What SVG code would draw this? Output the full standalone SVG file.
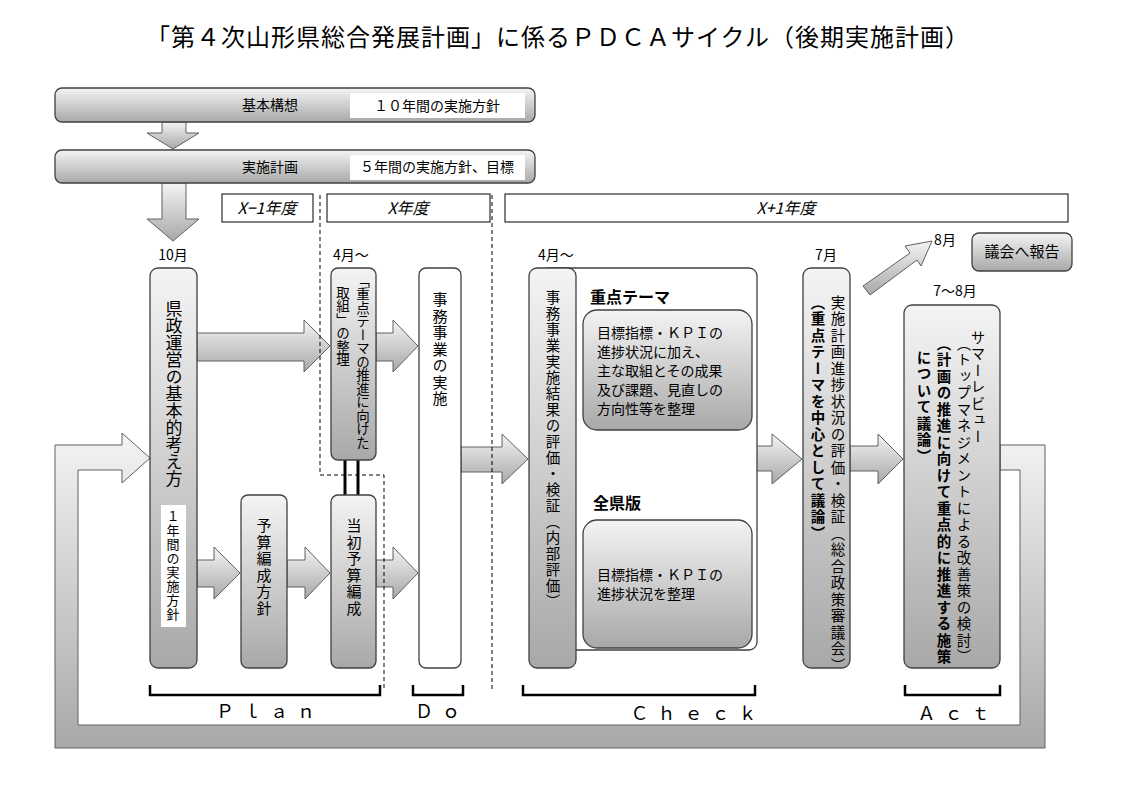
<svg xmlns="http://www.w3.org/2000/svg" width="1123" height="794" viewBox="0 0 1123 794">
<defs>
<linearGradient id="g" x1="0" y1="0" x2="0" y2="1"><stop offset="0" stop-color="#f4f4f4"/><stop offset="1" stop-color="#a8a8a8"/></linearGradient>
</defs>
<style>
text{font-family:"Noto Sans CJK JP","Noto Sans",sans-serif;fill:#000}
.n{fill:url(#g);stroke:#404040;stroke-width:1.3}
.w{fill:#fff;stroke:#404040;stroke-width:1.3}
.a{fill:url(#g);stroke:#606060;stroke-width:1}
.v{writing-mode:vertical-rl;font-size:15px;letter-spacing:1.5px}
.h{font-size:14px}
.y{font-size:16px;font-style:italic}
.b{font-weight:bold}
.d{fill:none;stroke:#000;stroke-dasharray:4 3;stroke-width:1}
.br{fill:none;stroke:#000;stroke-width:2.5}
.pl{font-size:18px;letter-spacing:9px}
</style>
<rect width="1123" height="794" fill="#fff"/>
<text x="558" y="46" text-anchor="middle" font-size="24" letter-spacing="1">「第４次山形県総合発展計画」に係るＰＤＣＡサイクル（後期実施計画）</text>

<g id="connectors">
<polygon class="a" points="162,122 186,122 186,133 199,133 173,149 147,133 162,133"/>
<polygon class="a" points="162,183 186,183 186,219 199,219 173,241 147,219 162,219"/>
<polygon class="a" points="197,333 304,333 304,320 330,346 304,372 304,361 197,361"/>
<polygon class="a" points="376,333 393,333 393,320 418,346 393,372 393,361 376,361"/>
<polygon class="a" points="197,560 214,560 214,547 240,573 214,599 214,587 197,587"/>
<polygon class="a" points="287,560 305,560 305,547 330,573 305,599 305,587 287,587"/>
<polygon class="a" points="376,560 393,560 393,547 418,573 393,599 393,587 376,587"/>
<polygon class="a" points="461,447 502,447 502,434 528,459 502,484 502,472 461,472"/>
<polygon class="a" points="597,446 772,446 772,434 802,459 772,484 772,471 597,471"/>
<polygon class="a" points="850,446 878,446 878,434 903,459 878,484 878,471 850,471"/>
<polygon class="a" points="863,286 910,253 905,246 932,241 921,266 917,260 870,295"/>
<polygon class="a" points="1000,445 1045,445 1045,748 55,748 55,445 122,445 122,433 150,458 122,483 122,470 78,470 78,725 1020,725 1020,470 1000,470"/>
<line x1="345" y1="460" x2="345" y2="495" stroke="#000" stroke-width="3"/>
<line x1="358" y1="460" x2="358" y2="495" stroke="#000" stroke-width="3"/>
<polyline class="d" points="320,195 320,475 384,475 384,690"/>
<line class="d" x1="492" y1="195" x2="492" y2="690"/>
<path class="br" d="M150,685V695H380V685M413,685V695H463V685M523,685V695H755V685M905,685V695H1000V685"/>
</g>

<g id="kihon"><rect class="n" x="55" y="88" width="480" height="34" rx="7"/><rect x="350" y="93" width="175" height="25" fill="#fff"/><text class="h" x="270" y="110" text-anchor="middle">基本構想</text><text class="h" x="437" y="111" text-anchor="middle">１０年間の実施方針</text></g>
<g id="jisshi"><rect class="n" x="55" y="150" width="480" height="33" rx="7"/><rect x="350" y="155" width="175" height="25" fill="#fff"/><text class="h" x="270" y="172" text-anchor="middle">実施計画</text><text class="h" x="437" y="172" text-anchor="middle">５年間の実施方針、目標</text></g>

<g id="years">
<rect x="222" y="194" width="91" height="28" fill="#fff" stroke="#000"/><text class="y" x="267" y="214" text-anchor="middle">X−1年度</text>
<rect x="327" y="194" width="163" height="28" fill="#fff" stroke="#000"/><text class="y" x="408" y="214" text-anchor="middle">X年度</text>
<rect x="505" y="194" width="563" height="28" fill="#fff" stroke="#000"/><text class="y" x="786" y="214" text-anchor="middle">X+1年度</text>
</g>

<g id="labels" font-size="14">
<text x="173" y="260" text-anchor="middle">10月</text>
<text x="333" y="260">4月～</text>
<text x="538" y="260">4月～</text>
<text x="826" y="260" text-anchor="middle">7月</text>
<text x="945" y="245" text-anchor="middle">8月</text>
<text x="955" y="296" text-anchor="middle">7～8月</text>
</g>

<g id="kensei"><rect class="n" x="150" y="268" width="47" height="400" rx="8"/><text class="v" x="174" y="300" style="font-size:17px;letter-spacing:0">県政運営の基本的考え方</text><rect x="161" y="505" width="25" height="122" fill="#fff"/><text class="v" x="173" y="510" style="font-size:13px;letter-spacing:1px">１年間の実施方針</text></g>
<g id="juten"><rect class="n" x="331" y="268" width="45" height="192" rx="7"/><text class="v" x="363" y="274" style="font-size:13.5px;letter-spacing:0">「重点テーマの推進に向けた</text><text class="v" x="343" y="286" style="font-size:13.5px;letter-spacing:0">取組」の整理</text></g>
<g id="yosanhoshin"><rect class="n" x="241" y="495" width="46" height="173" rx="7"/><text class="v" x="264" y="518">予算編成方針</text></g>
<g id="toshoyosan"><rect class="n" x="331" y="495" width="45" height="173" rx="7"/><text class="v" x="354" y="518">当初予算編成</text></g>
<g id="jimujigyo"><rect class="w" x="419" y="268" width="42" height="400" rx="7"/><text class="v" x="440" y="292">事務事業の実施</text></g>

<g id="checkbox"><rect class="w" x="540" y="268" width="217" height="382" rx="8"/>
<text x="590" y="303" font-size="16" class="b">重点テーマ</text>
<rect class="n" x="583" y="310" width="169" height="120" rx="14"/>
<text font-size="14"><tspan x="597" y="338">目標指標・ＫＰＩの</tspan><tspan x="597" y="357">進捗状況に加え、</tspan><tspan x="597" y="376">主な取組とその成果</tspan><tspan x="597" y="395">及び課題、見直しの</tspan><tspan x="597" y="414">方向性等を整理</tspan></text>
<text x="593" y="509" font-size="16" class="b">全県版</text>
<rect class="n" x="583" y="520" width="169" height="128" rx="14"/>
<text font-size="14"><tspan x="597" y="580">目標指標・ＫＰＩの</tspan><tspan x="597" y="599">進捗状況を整理</tspan></text>
</g>
<g id="naibu"><rect class="n" x="529" y="268" width="47" height="400" rx="8"/><text class="v" x="553" y="290" style="font-size:14.5px">事務事業実施結果の評価・検証（内部評価）</text></g>
<g id="sougou"><rect class="n" x="803" y="268" width="47" height="400" rx="8"/><text class="v" x="838" y="295" style="font-size:14.5px;letter-spacing:2px">実施計画進捗状況の評価・検証（総合政策審議会）</text><text class="v b" x="818" y="295" style="font-size:14.5px;letter-spacing:2px">（重点テーマを中心として議論）</text></g>
<g id="gikai"><rect class="n" x="972" y="233" width="100" height="38" rx="7"/><text x="1022" y="257" text-anchor="middle" font-size="15">議会へ報告</text></g>
<g id="summer"><rect class="n" x="904" y="305" width="96" height="363" rx="8"/>
<text class="v" x="978" y="330" style="font-size:14.5px;letter-spacing:2px">サマーレビュー</text>
<text class="v" x="964" y="336" style="font-size:14.5px;letter-spacing:2px">（トップマネジメントによる改善策の検討）</text>
<text class="v b" x="944" y="336" style="font-size:14.5px;letter-spacing:2px">（計画の推進に向けて重点的に推進する施策</text>
<text class="v b" x="924" y="350" style="font-size:14.5px;letter-spacing:2px">について議論）</text>
</g>

<g id="pdca">
<text class="pl" x="270" y="718" text-anchor="middle">Ｐｌａｎ</text>
<text class="pl" x="442" y="718" text-anchor="middle">Ｄｏ</text>
<text class="pl" x="698" y="720" text-anchor="middle">Ｃｈｅｃｋ</text>
<text class="pl" x="958" y="720" text-anchor="middle">Ａｃｔ</text>
</g>
</svg>
